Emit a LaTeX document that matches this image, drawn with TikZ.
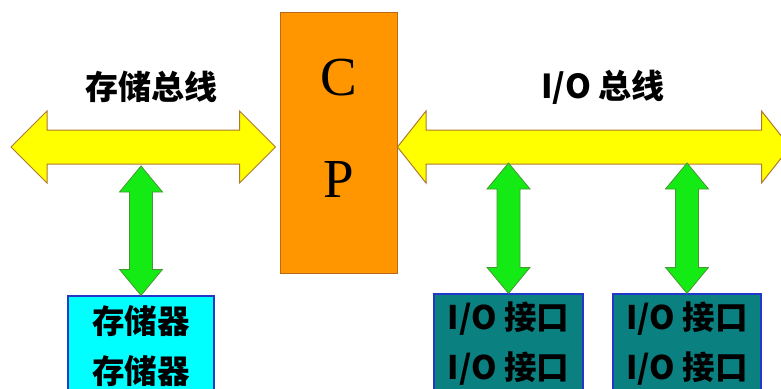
\documentclass[tikz,border=0pt]{standalone}
\usepackage{fontspec}
\setmainfont{Liberation Serif}
\newfontfamily\cjk{Noto Sans CJK SC}
\usepackage{tikz}
\usetikzlibrary{calc,positioning}

\definecolor{busyellow}{RGB}{255,255,0}
\definecolor{busedge}{RGB}{175,120,45}
\definecolor{cpuorange}{RGB}{255,150,0}
\definecolor{cpuedge}{RGB}{185,105,25}
\definecolor{linkgreen}{RGB}{20,235,20}
\definecolor{linkedge}{RGB}{70,150,50}
\definecolor{memcyan}{RGB}{0,255,255}
\definecolor{ioteal}{RGB}{10,128,128}
\definecolor{boxblue}{RGB}{35,55,200}

% double headed fat arrow: [style]{from}{to}{half shaft}{half head}{head length}
\newcommand{\fatarrow}[6][]{%
  \draw[#1] (#2)
    -- ($(#2)!#6!(#3)!#5!90:(#3)$)
    -- ($(#2)!#6!(#3)!#4!90:(#3)$)
    -- ($(#3)!#6!(#2)!#4!-90:(#2)$)
    -- ($(#3)!#6!(#2)!#5!-90:(#2)$)
    -- (#3)
    -- ($(#3)!#6!(#2)!#5!90:(#2)$)
    -- ($(#3)!#6!(#2)!#4!90:(#2)$)
    -- ($(#2)!#6!(#3)!#4!-90:(#3)$)
    -- ($(#2)!#6!(#3)!#5!-90:(#3)$)
    -- cycle;}

\begin{document}
\begin{tikzpicture}[x=1pt,y=-1pt,line join=miter]
  \tikzstyle{bus}=[fill=busyellow,draw=busedge,line width=1pt]
  \tikzstyle{link}=[fill=linkgreen,draw=linkedge,line width=0.8pt]
  \tikzstyle{cpubox}=[draw=cpuedge,fill=cpuorange,line width=1pt,
                      minimum width=117pt,minimum height=261pt,inner sep=0pt]
  \tikzstyle{cpuletter}=[font=\fontsize{55}{55}\selectfont,inner sep=0pt]
  \tikzstyle{unit}=[draw=boxblue,line width=1.2pt,minimum height=100pt,
                    inner sep=0pt,align=center,
                    font=\cjk\bfseries\fontsize{32.5}{50}\selectfont]
  \tikzstyle{buslabel}=[font=\cjk\bfseries\fontsize{33}{33}\selectfont]

  \fill[white] (0,0) rectangle (781,388);
  \useasboundingbox (0,0) rectangle (781,388);
  \clip (0,0) rectangle (781,388);

  % units
  \node[cpubox]                           (cpu)  at (338.5,142.5) {};
  \node[unit,fill=memcyan,minimum width=146pt] (mem)  at (141,346)  {存储器\\存储器};
  \node[unit,fill=ioteal,minimum width=149pt]  (io1)  at (508.5,344) {I/O 接口\\I/O 接口};
  \node[unit,fill=ioteal,minimum width=148pt]  (io2)  at (687,344)   {I/O 接口\\I/O 接口};

  % bus ends and taps
  \coordinate (membusL) at (11,147);
  \coordinate (membusR) at ([xshift=-4pt]cpu.west |- membusL);
  \coordinate (iobusL)  at (cpu.east |- membusL);
  \coordinate (iobusR)  at (790,147);
  \coordinate (memtap)  at (mem.north |- 0,166);
  \coordinate (io1tap)  at (io1.north |- 0,163);
  \coordinate (io2tap)  at (io2.north |- 0,163);

  % buses
  \fatarrow[bus]{membusL}{membusR}{17pt}{36pt}{36pt}
  \fatarrow[bus]{iobusL}{iobusR}{17pt}{36pt}{28.5pt}

  % links
  \fatarrow[link]{memtap}{mem.north}{11.5pt}{21.5pt}{26pt}
  \fatarrow[link]{io1tap}{io1.north}{11.5pt}{21.5pt}{26pt}
  \fatarrow[link]{io2tap}{io2.north}{11.5pt}{21.5pt}{26pt}

  \node[cpuletter] (C) at ($(cpu.north)+(0,66.5)$) {C};
  \node[cpuletter] (P) [below of=C, node distance=101pt] {P};

  \node[buslabel] (memlabel) at (151,87) {存储总线};
  \node[buslabel] (iolabel)  at (603,87) {I/O 总线};
\end{tikzpicture}
\end{document}
